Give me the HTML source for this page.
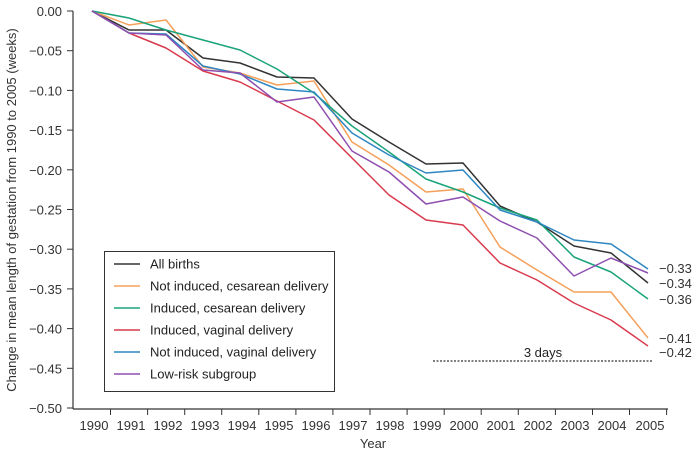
<!DOCTYPE html>
<html><head><meta charset="utf-8"><style>body{margin:0;background:#fff}svg{display:block;font-family:"Liberation Sans",sans-serif}</style></head><body>
<svg width="698" height="455" viewBox="0 0 698 455">
<g stroke="#333" stroke-width="1.2" fill="none">
<line x1="73" y1="11" x2="73" y2="409"/>
<line x1="73" y1="409" x2="668" y2="409"/>
</g>
<g stroke="#333" stroke-width="1" id="yt">
<line x1="67" x2="73" y1="11" y2="11"/><line x1="67" x2="73" y1="50.7" y2="50.7"/><line x1="67" x2="73" y1="90.4" y2="90.4"/><line x1="67" x2="73" y1="130.1" y2="130.1"/><line x1="67" x2="73" y1="169.8" y2="169.8"/><line x1="67" x2="73" y1="209.5" y2="209.5"/><line x1="67" x2="73" y1="249.2" y2="249.2"/><line x1="67" x2="73" y1="288.9" y2="288.9"/><line x1="67" x2="73" y1="328.6" y2="328.6"/><line x1="67" x2="73" y1="368.3" y2="368.3"/><line x1="67" x2="73" y1="408" y2="408"/>
</g>
<g font-size="13" fill="#333" text-anchor="end">
<text x="62" y="16">0.00</text><text x="62" y="55.7">−0.05</text><text x="62" y="95.4">−0.10</text><text x="62" y="135.1">−0.15</text><text x="62" y="174.8">−0.20</text><text x="62" y="214.5">−0.25</text><text x="62" y="254.2">−0.30</text><text x="62" y="293.9">−0.35</text><text x="62" y="333.6">−0.40</text><text x="62" y="373.3">−0.45</text><text x="62" y="413">−0.50</text>
</g>
<g stroke="#333" stroke-width="1">
<line x1="110.5" x2="110.5" y1="409" y2="415"/><line x1="147.6" x2="147.6" y1="409" y2="415"/><line x1="184.7" x2="184.7" y1="409" y2="415"/><line x1="221.7" x2="221.7" y1="409" y2="415"/><line x1="258.8" x2="258.8" y1="409" y2="415"/><line x1="295.9" x2="295.9" y1="409" y2="415"/><line x1="332.9" x2="332.9" y1="409" y2="415"/><line x1="370" x2="370" y1="409" y2="415"/><line x1="407.1" x2="407.1" y1="409" y2="415"/><line x1="444.2" x2="444.2" y1="409" y2="415"/><line x1="481.2" x2="481.2" y1="409" y2="415"/><line x1="518.3" x2="518.3" y1="409" y2="415"/><line x1="555.4" x2="555.4" y1="409" y2="415"/><line x1="592.5" x2="592.5" y1="409" y2="415"/><line x1="629.5" x2="629.5" y1="409" y2="415"/><line x1="666.6" x2="666.6" y1="409" y2="415"/>
</g>
<g font-size="13" fill="#333" text-anchor="middle">
<text x="94" y="430">1990</text><text x="131" y="430">1991</text><text x="168" y="430">1992</text><text x="205" y="430">1993</text><text x="242" y="430">1994</text><text x="279" y="430">1995</text><text x="316" y="430">1996</text><text x="353" y="430">1997</text><text x="390" y="430">1998</text><text x="427" y="430">1999</text><text x="464" y="430">2000</text><text x="501" y="430">2001</text><text x="538" y="430">2002</text><text x="575" y="430">2003</text><text x="612" y="430">2004</text><text x="650" y="430">2005</text>
<text x="373" y="448">Year</text>
<text transform="translate(16,210) rotate(-90)">Change in mean length of gestation from 1990 to 2005 (weeks)</text>
</g>
<g fill="none" stroke-width="1.5" stroke-linejoin="round">
<polyline stroke="#333333" points="92,11 129,30 166,30 203,58 240,63 277,77 314,78 352,119 389,142 426,164 463,163 500,206 537,222 574,246 611,253 648,283"/>
<polyline stroke="#f5a05a" points="92,11 129,25 166,20 203,67 240,73 277,85 314,81 352,142 389,165 426,192 463,189 500,247 537,270 574,292 611,292 648,338"/>
<polyline stroke="#1aa37a" points="92,11 129,18 166,30 203,40 240,50 277,69 314,93 352,126 389,152 426,179 463,192 500,208 537,220 574,257 611,272 648,299"/>
<polyline stroke="#d93a4e" points="92,11 129,33 166,48 203,71 240,82 277,101 314,120 352,158 389,195 426,220 463,225 500,263 537,280 574,303 611,320 648,346"/>
<polyline stroke="#2e86c1" points="92,11 129,33 166,34 203,66 240,74 277,89 314,92 352,133 389,155 426,173 463,170 500,210 537,222 574,240 611,244 648,269"/>
<polyline stroke="#8e4fb0" points="92,11 129,33 166,35 203,70 240,73 277,102 314,97 352,151 389,172 426,204 463,197 500,221 537,238 574,276 611,258 648,273"/>
</g>
<line x1="433" y1="361" x2="653" y2="361" stroke="#000" stroke-dasharray="2,1.5" stroke-width="1"/>
<text x="543" y="357" font-size="13" fill="#222" text-anchor="middle">3 days</text>
<g font-size="13" fill="#333">
<text x="659" y="273">−0.33</text><text x="659" y="288">−0.34</text><text x="659" y="304">−0.36</text><text x="659" y="343">−0.41</text><text x="659" y="357">−0.42</text>
</g>
<rect x="104.5" y="251.5" width="230" height="140" fill="#fff" stroke="#333" stroke-width="1"/>
<g stroke-width="1.5">
<line x1="114" x2="140" y1="264" y2="264" stroke="#333"/>
<line x1="114" x2="140" y1="286" y2="286" stroke="#f5a05a"/>
<line x1="114" x2="140" y1="308" y2="308" stroke="#1aa37a"/>
<line x1="114" x2="140" y1="330" y2="330" stroke="#d93a4e"/>
<line x1="114" x2="140" y1="352" y2="352" stroke="#2e86c1"/>
<line x1="114" x2="140" y1="374" y2="374" stroke="#8e4fb0"/>
</g>
<g font-size="13" fill="#222">
<text x="150" y="268.5">All births</text>
<text x="150" y="290.5">Not induced, cesarean delivery</text>
<text x="150" y="312.5">Induced, cesarean delivery</text>
<text x="150" y="334.5">Induced, vaginal delivery</text>
<text x="150" y="356.5">Not induced, vaginal delivery</text>
<text x="150" y="378.5">Low-risk subgroup</text>
</g>
</svg>
</body></html>
